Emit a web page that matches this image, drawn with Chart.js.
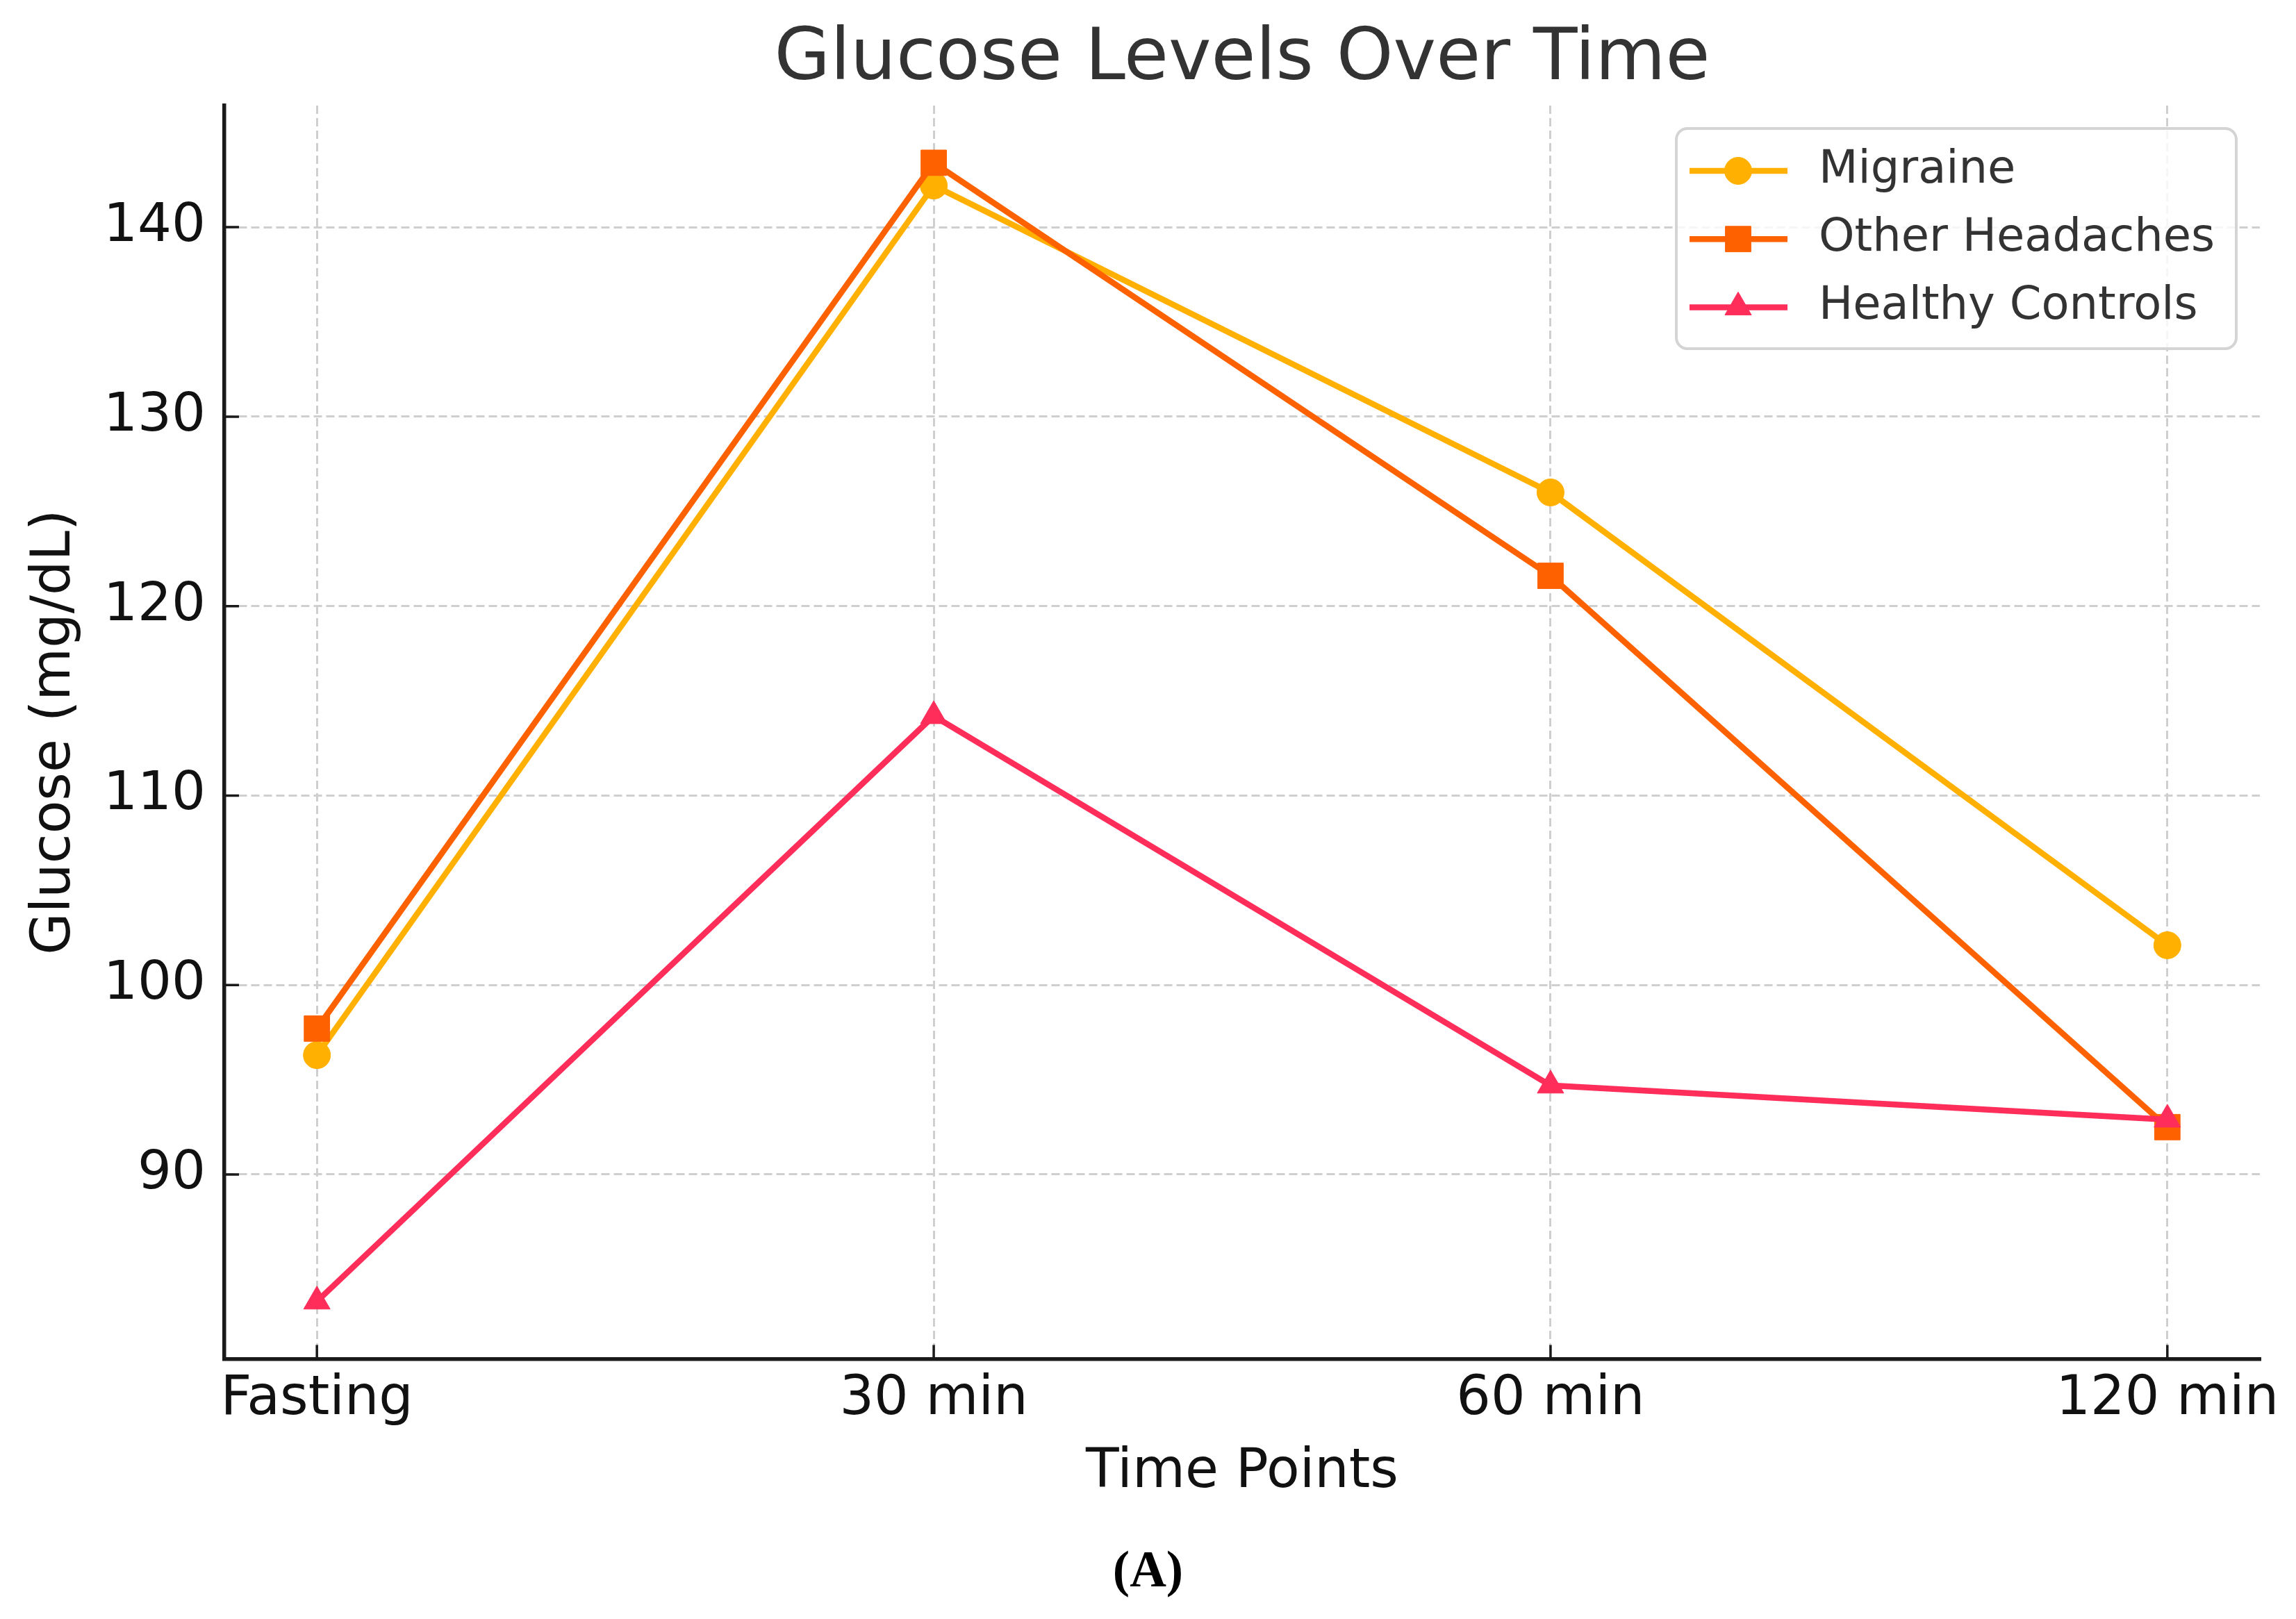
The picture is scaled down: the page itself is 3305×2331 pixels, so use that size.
<!DOCTYPE html>
<html>
<head>
<meta charset="utf-8">
<script src="https://cdn.jsdelivr.net/npm/chart.js@4.4.1/dist/chart.umd.min.js"></script>
<style>
  html, body { margin: 0; padding: 0; background: #ffffff; }
  canvas { display: block; }
</style>
</head>
<body>
<canvas id="c" width="3305" height="2331" style="width:3305px;height:2331px"></canvas>
<script>
// ---- data ----
const categories = ['Fasting', '30 min', '60 min', '120 min'];
const migraine = [96.3, 142.2, 126.0, 102.1];
const otherHeadaches = [97.7, 143.4, 121.6, 92.5];
const healthyControls = [83.3, 114.2, 94.7, 92.9];
const yTicks = [90, 100, 110, 120, 130, 140];
const seriesNames = ['Migraine', 'Other Headaches', 'Healthy Controls'];

const FONT = "'DejaVu Sans', sans-serif";

function pts(arr) { return arr.map((v, i) => ({ x: i, y: v })); }

const colors = ['#FFB000', '#FE6100', '#FF2D5A'];
const styles = ['circle', 'rect', 'triangle'];
const radii = [19.5, 26, 22];
const values = [migraine, otherHeadaches, healthyControls];

const datasets = values.map((arr, i) => ({
  label: seriesNames[i],
  data: pts(arr),
  borderColor: colors[i],
  backgroundColor: colors[i],
  borderWidth: 8.5,
  borderJoinStyle: 'round',
  pointStyle: styles[i],
  pointRadius: radii[i],
  pointHoverRadius: radii[i],
  pointBackgroundColor: colors[i],
  pointBorderColor: colors[i],
  pointBorderWidth: 1,
  tension: 0,
  order: 2 - i
}));

// inward tick marks
const inTicks = {
  id: 'inTicks',
  afterDatasetsDraw(chart) {
    const { ctx, chartArea } = chart;
    const xs = chart.scales.x, ys = chart.scales.y;
    ctx.save();
    ctx.strokeStyle = '#1a1a1a';
    ctx.lineWidth = 3.5;
    ctx.beginPath();
    xs.ticks.forEach(t => {
      const px = xs.getPixelForValue(t.value);
      ctx.moveTo(px, chartArea.bottom);
      ctx.lineTo(px, chartArea.bottom - 20);
    });
    ys.ticks.forEach(t => {
      const py = ys.getPixelForValue(t.value);
      ctx.moveTo(chartArea.left, py);
      ctx.lineTo(chartArea.left + 21, py);
    });
    ctx.stroke();
    ctx.restore();
  }
};

// matplotlib-like legend
const mplLegend = {
  id: 'mplLegend',
  afterDraw(chart) {
    const { ctx, chartArea } = chart;
    const x0 = chartArea.right - 840, y0 = chartArea.top + 33;
    const w = 806, h = 317, r = 16;
    ctx.save();
    ctx.beginPath();
    ctx.roundRect(x0, y0, w, h, r);
    ctx.fillStyle = 'rgba(255,255,255,0.8)';
    ctx.fill();
    ctx.lineWidth = 4;
    ctx.strokeStyle = '#d4d4d4';
    ctx.stroke();
    chart.data.datasets.forEach((ds, i) => {
      const y = y0 + 61 + i * 98.2;
      ctx.strokeStyle = ds.borderColor;
      ctx.lineWidth = ds.borderWidth;
      ctx.lineCap = 'butt';
      ctx.beginPath();
      ctx.moveTo(x0 + 19, y);
      ctx.lineTo(x0 + 160, y);
      ctx.stroke();
      ctx.fillStyle = ds.pointBackgroundColor;
      ctx.strokeStyle = ds.pointBorderColor;
      ctx.lineWidth = 1;
      Chart.helpers.drawPoint(ctx, { pointStyle: ds.pointStyle, radius: ds.pointRadius, borderWidth: 1, rotation: 0 }, x0 + 89, y);
      ctx.fillStyle = '#333333';
      ctx.font = '65.5px ' + FONT;
      ctx.textAlign = 'left';
      ctx.textBaseline = 'middle';
      ctx.fillText(ds.label, x0 + 205, y);
    });
    ctx.restore();
  }
};

new Chart(document.getElementById('c'), {
  type: 'line',
  data: { datasets },
  plugins: [inTicks, mplLegend],
  options: {
    responsive: false,
    animation: false,
    devicePixelRatio: 1,
    layout: { padding: 0 },
    plugins: {
      legend: { display: false },
      tooltip: { enabled: false },
      title: {
        display: true,
        text: 'Glucose Levels Over Time',
        fullSize: false,
        color: '#333333',
        font: { family: FONT, size: 104, weight: 'normal', lineHeight: 1.2 },
        padding: { top: 24.6, bottom: 2.6 }
      },
      subtitle: {
        display: true,
        position: 'bottom',
        text: '(A)',
        color: '#000000',
        font: { family: "'Liberation Serif', 'Times New Roman', serif", size: 73, weight: 'bold', lineHeight: 1.2 },
        padding: { top: 54, bottom: 22 }
      }
    },
    scales: {
      x: {
        type: 'linear',
        bounds: 'data',
        min: -0.15,
        max: 3.15,
        afterBuildTicks: (s) => { s.ticks = categories.map((_, i) => ({ value: i })); },
        afterFit: (s) => { s.height = 211; },
        ticks: {
          autoSkip: false,
          maxRotation: 0,
          minRotation: 0,
          padding: 13,
          color: '#111111',
          font: { family: FONT, size: 78, lineHeight: 1.2 },
          callback: (v) => categories[Math.round(v)]
        },
        grid: { color: '#cfcfcf', lineWidth: 3, drawTicks: false },
        border: { display: true, color: '#1a1a1a', width: 5.5, dash: [12, 6] },
        title: {
          display: true,
          text: 'Time Points',
          color: '#111111',
          font: { family: FONT, size: 78, lineHeight: 1.2 },
          padding: { top: 0, bottom: 0 }
        }
      },
      y: {
        type: 'linear',
        bounds: 'data',
        min: 80.27,
        max: 146.42,
        afterBuildTicks: (s) => { s.ticks = yTicks.map(v => ({ value: v })); },
        afterFit: (s) => { s.width = 323; },
        ticks: {
          padding: 27,
          color: '#111111',
          font: { family: FONT, size: 77, lineHeight: 1.2 },
          callback: (v) => String(v)
        },
        grid: { color: '#cfcfcf', lineWidth: 3, drawTicks: false },
        border: { display: true, color: '#1a1a1a', width: 5.5, dash: [12, 6] },
        title: {
          display: true,
          text: 'Glucose (mg/dL)',
          color: '#111111',
          font: { family: FONT, size: 78, lineHeight: 1.2 },
          padding: { top: 33, bottom: 0 }
        }
      },
      // empty right margin (no marks), keeps the plot area off the right edge
      yMargin: {
        type: 'linear',
        position: 'right',
        display: true,
        min: 0,
        max: 1,
        afterFit: (s) => { s.width = 52; },
        ticks: { display: false },
        grid: { display: false, drawTicks: false },
        border: { display: false },
        title: { display: false }
      }
    }
  }
});
</script>
</body>
</html>
